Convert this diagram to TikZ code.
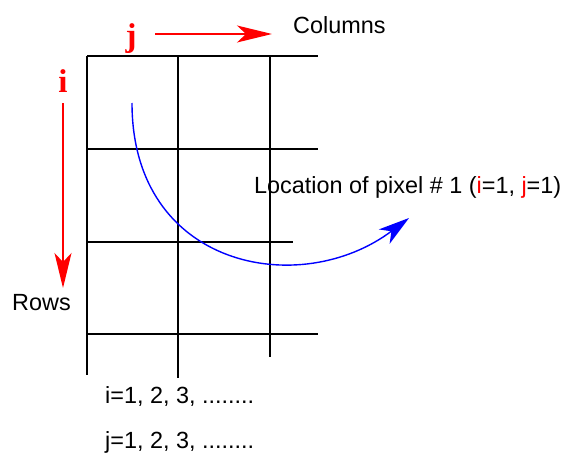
\documentclass[tikz,border=0pt]{standalone}
\usepackage{fontspec}
\setmainfont{Liberation Sans}
\newfontfamily\serifb{Liberation Serif}
\usetikzlibrary{arrows.meta}
\begin{document}
\begin{tikzpicture}[x=1pt,y=-1pt,
  grid/.style={draw=black,line width=1.2pt},
  lbl/.style={inner sep=0pt,font=\fontsize{23.4}{27}\selectfont},
  redlbl/.style={inner sep=0pt,text=red,font=\serifb\bfseries\fontsize{33}{36}\selectfont},
  redarrow/.style={draw=red,line width=1.3pt,-{Stealth[length=35pt,width=17pt,inset=9pt]}},
  bluearrow/.style={draw=blue,line width=1.4pt,-{Stealth[length=31pt,width=18pt,inset=9pt]}}]
\useasboundingbox (0,0) rectangle (563,455);
% grid
\draw[grid] (87,56) -- (87,375);
\draw[grid] (178,56) -- (178,378);
\draw[grid] (270,56) -- (270,357);
\draw[grid] (87,56) -- (318,56);
\draw[grid] (87,149) -- (318,149);
\draw[grid] (87,242) -- (293,242);
\draw[grid] (87,334) -- (318,334);
% labels
\node[redlbl,anchor=base] (ilbl) at (63,92) {i};
\node[redlbl,anchor=base] (jlbl) at (131,46) {j};
\node[lbl,anchor=base west] (cols) at (293,33) {Columns};
\node[lbl,anchor=base west] (rows) at (12,310) {Rows};
\node[lbl,anchor=base west] (loc) at (254,193) {Location of pixel \# 1 (\textcolor{red}{i}=1, \textcolor{red}{j}=1)};
\node[lbl,anchor=base west] (irange) at (105,403) {i=1, 2, 3, ........};
\node[lbl,anchor=base west] (jrange) at (105,448) {j=1, 2, 3, ........};
% arrows
\coordinate (istart) at (63,103);
\coordinate (iend) at (63,288);
\draw[redarrow] (istart) -- (iend);
\coordinate (jstart) at (155,34);
\coordinate (jend) at (272,34);
\draw[redarrow] (jstart) -- (jend);
\coordinate (bstart) at (132,103);
\coordinate (bend) at (409,218);
\draw[bluearrow] (bstart) .. controls (132,268) and (300,300) .. (bend);
\end{tikzpicture}
\end{document}
